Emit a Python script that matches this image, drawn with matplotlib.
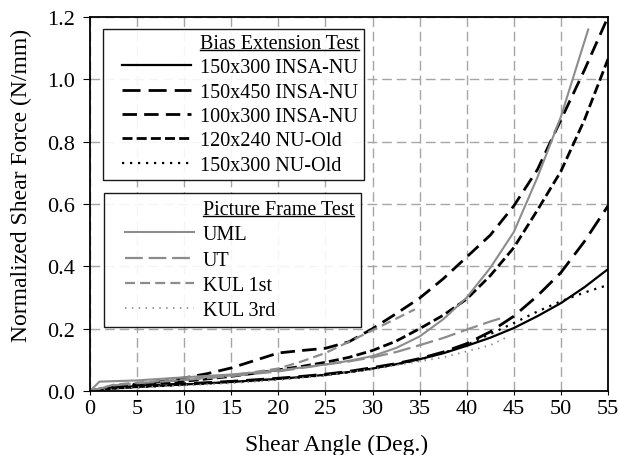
import matplotlib
matplotlib.use('Agg')
import matplotlib.pyplot as plt
from matplotlib.lines import Line2D
from matplotlib.legend_handler import HandlerLine2D

plt.rcParams['font.family'] = ['Liberation Serif', 'DejaVu Serif']

# shear angle grid used for the bias extension curves
ang = [0, 2.5, 5, 7.5, 10, 12.5, 15, 17.5, 20, 22.5, 25, 27.5, 30, 32.5,
       35, 37.5, 40, 42.5, 45, 47.5, 50, 52.5, 55]

# Bias extension test
be_150x300_insa = [0, 0.008, 0.013, 0.017, 0.021, 0.025, 0.029, 0.034, 0.039, 0.045,
                   0.052, 0.061, 0.072, 0.086, 0.102, 0.121, 0.145, 0.171, 0.202,
                   0.24, 0.282, 0.333, 0.391]
be_150x450_insa = [0, 0.01, 0.015, 0.019, 0.023, 0.027, 0.031, 0.036, 0.041, 0.047,
                   0.054, 0.063, 0.075, 0.088, 0.104, 0.125, 0.152, 0.19, 0.24,
                   0.305, 0.38, 0.48, 0.594]
be_100x300_insa = [0, 0.015, 0.022, 0.03, 0.042, 0.056, 0.074, 0.098, 0.122, 0.13,
                   0.137, 0.158, 0.2, 0.248, 0.298, 0.36, 0.43, 0.5, 0.594,
                   0.71, 0.87, 1.03, 1.2]
be_120x240_old = [0, 0.012, 0.018, 0.024, 0.031, 0.039, 0.047, 0.057, 0.068, 0.079,
                  0.092, 0.108, 0.13, 0.16, 0.2, 0.243, 0.295, 0.37, 0.46,
                  0.58, 0.705, 0.87, 1.065]
be_150x300_old = [0, 0.008, 0.012, 0.016, 0.02, 0.024, 0.028, 0.033, 0.038, 0.044,
                  0.051, 0.06, 0.071, 0.085, 0.1, 0.122, 0.148, 0.183, 0.218,
                  0.255, 0.288, 0.316, 0.34]

# Picture frame test
uml_x = [0, 1, 5, 10, 15, 20, 25, 27.5, 30, 32.5, 35, 37.5, 40, 42.5, 45, 47.5, 50, 52.9]
uml_y = [0, 0.03, 0.034, 0.044, 0.053, 0.066, 0.085, 0.097, 0.112, 0.138, 0.175,
         0.23, 0.3, 0.395, 0.51, 0.685, 0.88, 1.16]
ut_x = [0, 2.5, 5, 10, 15, 20, 25, 27.5, 30, 32.5, 35, 37.5, 40, 42.5, 44]
ut_y = [0, 0.018, 0.025, 0.035, 0.048, 0.063, 0.085, 0.095, 0.108, 0.125, 0.147,
        0.17, 0.197, 0.223, 0.237]
kul1_x = [0, 2.5, 5, 10, 15, 20, 22.5, 25, 27.5, 30, 32.5, 34.5]
kul1_y = [0, 0.02, 0.027, 0.037, 0.05, 0.072, 0.095, 0.122, 0.158, 0.195, 0.232, 0.262]
kul3_x = [0, 5, 10, 15, 20, 25, 30, 35, 37.5, 40, 42.5, 44.3]
kul3_y = [0, 0.012, 0.018, 0.025, 0.035, 0.05, 0.07, 0.095, 0.108, 0.127, 0.147, 0.173]

black = 'black'
gray = '#8c8c8c'

fig = plt.figure(figsize=(6.2, 4.56), dpi=100)
ax = fig.add_axes([90/620, 1-392/456, 518/620, 374/456])

l1, = ax.plot(ang, be_150x300_insa, color=black, lw=1.6, label='150x300 INSA-NU')
l2, = ax.plot(ang, be_150x450_insa, color=black, lw=2.0, dashes=(6.5, 2.9), label='150x450 INSA-NU')
l3, = ax.plot(ang, be_100x300_insa, color=black, lw=2.0, dashes=(5.2, 2.6), label='100x300 INSA-NU')
l4, = ax.plot(ang, be_120x240_old, color=black, lw=2.0, dashes=(3.6, 1.5), label='120x240 NU-Old')
l5, = ax.plot(ang, be_150x300_old, color=black, lw=1.6, dashes=(1, 2.6), label='150x300 NU-Old')

g1, = ax.plot(uml_x, uml_y, color=gray, lw=1.5, label='UML')
g2, = ax.plot(ut_x, ut_y, color=gray, lw=1.6, dashes=(8, 2.6), label='UT')
g3, = ax.plot(kul1_x, kul1_y, color=gray, lw=1.6, dashes=(4.5, 2.3), label='KUL 1st')
g4, = ax.plot(kul3_x, kul3_y, color=gray, lw=1.3, dashes=(0.8, 3), label='KUL 3rd')

ax.set_xlim(0, 55)
ax.set_ylim(0, 1.2)
ax.set_xticks(range(0, 56, 5))
ax.set_yticks([0, 0.2, 0.4, 0.6, 0.8, 1.0, 1.2])
ax.set_yticklabels(['0.0', '0.2', '0.4', '0.6', '0.8', '1.0', '1.2'])
ax.grid(True, color='#a6a6a6', lw=1.0, linestyle=(0, (7, 3.5)))
ax.set_axisbelow(True)
ax.tick_params(axis='both', labelsize=16, colors='black')
ax.tick_params(axis='y', direction='out', length=5, pad=6)
ax.tick_params(axis='x', direction='out', length=3, pad=3)
for s in ax.spines.values():
    s.set_linewidth(1.3)

ax.set_xlabel('Shear Angle (Deg.)', fontsize=17)
ax.set_ylabel('Normalized Shear Force (N/mm)', fontsize=17)
ax.xaxis.set_label_coords(0.476, -0.115)
ax.yaxis.set_label_coords(-0.112, 0.553)

blank = Line2D([], [], color='none')
hmap = {h: HandlerLine2D(xpad=0.7) for h in [l1, l2, l3, l4, l5, g1, g2, g3, g4, blank]}
leg_kw = dict(loc='upper left', fontsize=14.5, frameon=True, fancybox=False,
              edgecolor='black', framealpha=0.9, borderaxespad=0,
              handlelength=4.1, handletextpad=0.45, handler_map=hmap)

leg1 = ax.legend([blank, l1, l2, l3, l4, l5],
                 ['Bias Extension Test', '150x300 INSA-NU', '150x450 INSA-NU',
                  '100x300 INSA-NU', '120x240 NU-Old', '150x300 NU-Old'],
                 bbox_to_anchor=(0.025, 0.968), borderpad=0.25, labelspacing=0.26,
                 **leg_kw)
leg1.get_frame().set_linewidth(1.0)
ax.add_artist(leg1)
leg2 = ax.legend([blank, g1, g2, g3, g4],
                 ['Picture Frame Test', 'UML', 'UT', 'KUL 1st', 'KUL 3rd'],
                 bbox_to_anchor=(0.027, 0.529), borderpad=0.35, labelspacing=0.3,
                 **leg_kw)
leg2.get_frame().set_linewidth(1.0)

# underline the two legend headings
fig.canvas.draw()
inv = fig.transFigure.inverted()
for leg in [leg1, leg2]:
    t = leg.get_texts()[0]
    bb = t.get_window_extent()
    (x0, y0), (x1, _) = inv.transform([(bb.x0, bb.y0 + 3), (bb.x1, bb.y0 + 3)])
    fig.add_artist(Line2D([x0, x1], [y0, y0], color='black', lw=1.0,
                          transform=fig.transFigure))

fig.savefig('out.png', dpi=100)
